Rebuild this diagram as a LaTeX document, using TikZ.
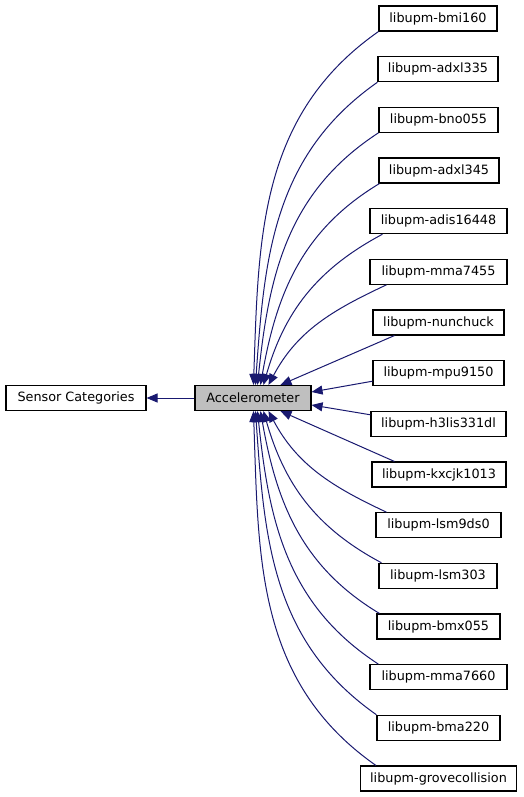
\documentclass[tikz,border=0pt]{standalone}
\usepackage{fontspec}
\setmainfont{DejaVu Sans}
\usetikzlibrary{arrows.meta}
\definecolor{edgeblue}{HTML}{191970}
\definecolor{accgray}{HTML}{BFBFBF}
\begin{document}
\begin{tikzpicture}[x=1pt,y=1pt,
  box/.style={draw=black,line width=1.1pt,fill=white,minimum height=25pt,inner sep=0pt,
    font=\fontsize{12.8}{14}\selectfont,anchor=center},
  edge/.style={draw=edgeblue,line width=1pt,-{Triangle[length=11pt,width=9pt]}}]
\useasboundingbox (0,0) rectangle (523,-797);
\fill[white] (0,0) rectangle (523,-797);
% left nodes
\node[box,minimum width=140pt] (sc) at (76,-398) {Sensor Categories};
\node[box,minimum width=116pt,fill=accgray] (acc) at (253,-398) {Accelerometer};
% right nodes
\node[box,minimum width=118pt] (b0) at (438,-18.5) {libupm-bmi160};
\node[box,minimum width=120pt] (b1) at (438,-69.2) {libupm-adxl335};
\node[box,minimum width=119pt] (b2) at (438.5,-119.8) {libupm-bno055};
\node[box,minimum width=120pt] (b3) at (439,-170.5) {libupm-adxl345};
\node[box,minimum width=137pt] (b4) at (438.5,-221.2) {libupm-adis16448};
\node[box,minimum width=137pt] (b5) at (438.5,-271.8) {libupm-mma7455};
\node[box,minimum width=131pt] (b6) at (438.5,-322.5) {libupm-nunchuck};
\node[box,minimum width=131pt] (b7) at (438.5,-373.2) {libupm-mpu9150};
\node[box,minimum width=135pt] (b8) at (438.5,-423.8) {libupm-h3lis331dl};
\node[box,minimum width=134pt] (b9) at (439,-474.5) {libupm-kxcjk1013};
\node[box,minimum width=125pt] (b10) at (438.5,-525.2) {libupm-lsm9ds0};
\node[box,minimum width=118pt] (b11) at (438,-575.8) {libupm-lsm303};
\node[box,minimum width=123pt] (b12) at (438.5,-626.5) {libupm-bmx055};
\node[box,minimum width=137pt] (b13) at (438.5,-677.2) {libupm-mma7660};
\node[box,minimum width=123pt] (b14) at (438.5,-727.8) {libupm-bma220};
\node[box,minimum width=156pt] (b15) at (438.5,-778.5) {libupm-grovecollision};
% edges
\draw[edge] (acc.west) -- (sc.east);
\draw[edge] (b0.south west) to[out=215,in=88] ([xshift=59pt]acc.north west);
\draw[edge] (b1.south west) to[out=215,in=86] ([xshift=61pt]acc.north west);
\draw[edge] (b2.south west) to[out=213,in=84] ([xshift=63pt]acc.north west);
\draw[edge] ([xshift=1pt]b3.south west) to[out=211,in=80] ([xshift=66pt]acc.north west);
\draw[edge] ([xshift=13pt]b4.south west) to[out=208,in=74] ([xshift=69pt]acc.north west);
\draw[edge] ([xshift=17pt]b5.south west) to[out=205,in=62] ([xshift=74pt]acc.north west);
\draw[edge] ([xshift=22pt]b6.south west) -- ([xshift=86pt]acc.north west);
\draw[edge] ([yshift=-8pt]b7.west) -- ([yshift=6pt]acc.east);
\draw[edge] ([yshift=9pt]b8.west) -- ([yshift=-7pt]acc.east);
\draw[edge] ([xshift=23pt]b9.north west) -- ([xshift=86pt]acc.south west);
\draw[edge] ([xshift=11pt]b10.north west) to[out=155,in=-62] ([xshift=74pt]acc.south west);
\draw[edge] ([xshift=3pt]b11.north west) to[out=152,in=-74] ([xshift=69pt]acc.south west);
\draw[edge] ([xshift=3pt]b12.north west) to[out=149,in=-80] ([xshift=66pt]acc.south west);
\draw[edge] ([xshift=9pt]b13.north west) to[out=147,in=-84] ([xshift=63pt]acc.south west);
\draw[edge] (b14.north west) to[out=145,in=-86] ([xshift=61pt]acc.south west);
\draw[edge] ([xshift=16pt]b15.north west) to[out=145,in=-88] ([xshift=59pt]acc.south west);
\end{tikzpicture}
\end{document}
